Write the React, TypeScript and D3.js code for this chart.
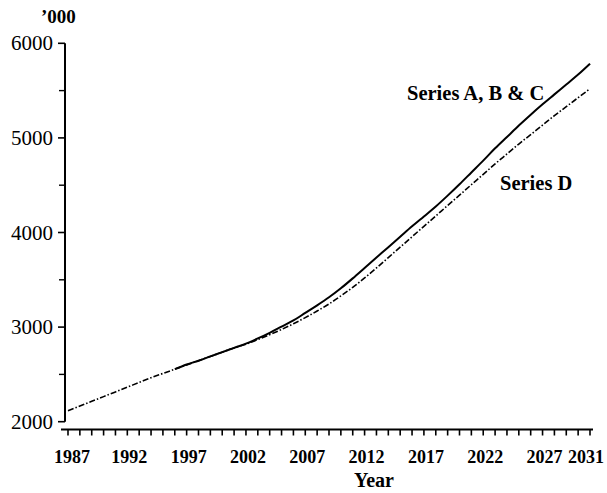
import * as d3 from "d3";
import React from "react";

// years shown on the x axis
const years = d3.range(1987, 2032);
const yearLabels = [1987, 1992, 1997, 2002, 2007, 2012, 2017, 2022, 2027, 2031];
const valueTicks = [2000, 3000, 4000, 5000, 6000];
const minorTicks = [2500, 3500, 4500, 5500];

// Series A, B & C (solid) – starts where the projection begins
const abcYears = d3.range(1996, 2032);
const abcValues = [
  2555, 2605, 2645, 2690, 2735, 2780, 2825, 2880, 2940, 3005, 3070, 3150, 3230,
  3315, 3410, 3515, 3625, 3735, 3845, 3955, 4065, 4170, 4275, 4390, 4510, 4635,
  4760, 4890, 5010, 5130, 5245, 5355, 5460, 5565, 5670, 5785,
];

// Series D (dash-dot)
const dYears = d3.range(1987, 2032);
const dValues = [
  2115, 2165, 2215, 2265, 2315, 2365, 2415, 2465, 2510, 2555, 2600, 2645, 2690,
  2735, 2780, 2820, 2868, 2920, 2975, 3035, 3100, 3170, 3245, 3330, 3420, 3520,
  3625, 3735, 3845, 3955, 4065, 4175, 4285, 4395, 4505, 4615, 4725, 4830, 4935,
  5035, 5135, 5235, 5330, 5425, 5520,
];

const serif = "'Liberation Serif', 'DejaVu Serif', serif";

const App = () => {
  const width = 607;
  const height = 493;

  const x = d3.scaleLinear().domain([1987, 2031]).range([68, 590]);
  const y = d3.scaleLinear().domain([2000, 6000]).range([421.7, 43.3]);

  const line = d3
    .line<[number, number]>()
    .x((d) => x(d[0]))
    .y((d) => y(d[1]))
    .curve(d3.curveMonotoneX);

  const abcPath = line(abcYears.map((yr, i) => [yr, abcValues[i]]));
  const dPath = line(dYears.map((yr, i) => [yr, dValues[i]]));

  const axisY = 429.5;
  const yAxisX = 65;

  // small nudges so the year labels sit as in the print
  const labelShift = (yr: number) => (yr === 1987 ? 4 : yr === 2031 ? -4 : 2);

  return (
    <svg
      width={width}
      height={height}
      style={{ position: "absolute", left: 0, top: 0, background: "#fff" }}
    >
      {/* y axis */}
      <line x1={yAxisX} x2={yAxisX} y1={y(6000)} y2={y(2000)} stroke="#000" strokeWidth={2} />
      {valueTicks.map((v) => (
        <g key={v}>
          <line x1={yAxisX - 7} x2={yAxisX} y1={y(v)} y2={y(v)} stroke="#000" strokeWidth={1.6} />
          <text
            x={53}
            y={y(v) + 7}
            textAnchor="end"
            fontFamily={serif}
            fontSize={21}
            fill="#000"
          >
            {v}
          </text>
        </g>
      ))}
      {minorTicks.map((v) => (
        <line key={v} x1={yAxisX - 6} x2={yAxisX} y1={y(v)} y2={y(v)} stroke="#000" strokeWidth={1.4} />
      ))}
      <text x={41} y={23} fontFamily={serif} fontSize={19} fontWeight="bold" fill="#000">
        ’000
      </text>

      {/* x axis */}
      <line x1={61} x2={593} y1={axisY} y2={axisY} stroke="#000" strokeWidth={2} />
      {years.map((yr) => (
        <line key={yr} x1={x(yr)} x2={x(yr)} y1={axisY} y2={axisY + 6} stroke="#000" strokeWidth={1.6} />
      ))}
      {yearLabels.map((yr) => (
        <text
          key={yr}
          x={x(yr) + labelShift(yr)}
          y={463}
          textAnchor="middle"
          fontFamily={serif}
          fontSize={18}
          fontWeight="bold"
          fill="#000"
        >
          {yr}
        </text>
      ))}
      <text x={374} y={487} textAnchor="middle" fontFamily={serif} fontSize={20} fontWeight="bold" fill="#000">
        Year
      </text>

      {/* series */}
      <path d={dPath || undefined} fill="none" stroke="#000" strokeWidth={1.6} strokeDasharray="6,2,1.5,2" />
      <path d={abcPath || undefined} fill="none" stroke="#000" strokeWidth={2} />

      {/* labels */}
      <text x={407} y={100} fontFamily={serif} fontSize={20.5} fontWeight="bold" fill="#000">
        Series A, B &amp; C
      </text>
      <text x={500} y={190} fontFamily={serif} fontSize={20.5} fontWeight="bold" fill="#000">
        Series D
      </text>
    </svg>
  );
};

export default App;
